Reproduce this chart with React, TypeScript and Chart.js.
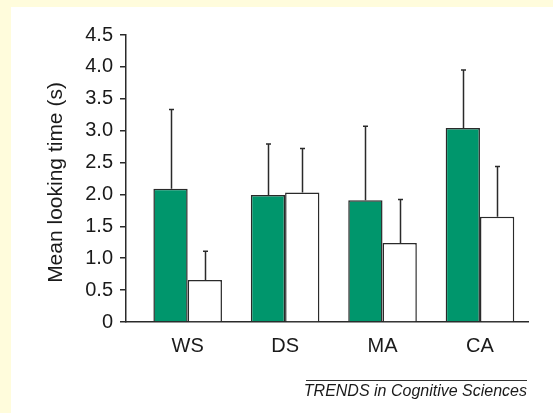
import React, { useEffect, useRef } from 'react';
import { Chart, registerables } from 'chart.js';

Chart.register(...registerables);

const categories = ['WS', 'DS', 'MA', 'CA'];
const greenMeans = [2.09, 1.99, 1.91, 3.04];
const whiteMeans = [0.66, 2.03, 1.24, 1.65];
const greenErrors = [1.24, 0.8, 1.16, 0.91];
const whiteErrors = [0.45, 0.69, 0.68, 0.79];
const yTicks = [0, 0.5, 1, 1.5, 2, 2.5, 3, 3.5, 4, 4.5];
const yTitle = 'Mean looking time (s)';
const footer = 'TRENDS in Cognitive Sciences';

const FONT = '"Liberation Sans", Arial, Helvetica, sans-serif';
const INK = '#1a1a1a';
const LINE = '#2a2a2a';

const background = {
  id: 'background',
  beforeDraw(chart: any) {
    const { ctx, width, height } = chart;
    ctx.save();
    ctx.fillStyle = '#FFFCDC';
    ctx.fillRect(0, 0, width, height);
    ctx.fillStyle = '#FFFFFF';
    ctx.fillRect(11, 7, width - 11, height - 7);
    ctx.restore();
  },
};

const errorBars = {
  id: 'errorBars',
  afterDatasetsDraw(chart: any) {
    const { ctx } = chart;
    const yScale = chart.scales.y;
    chart.data.datasets.forEach((ds: any, di: number) => {
      const meta = chart.getDatasetMeta(di);
      meta.data.forEach((bar: any, i: number) => {
        const top = yScale.getPixelForValue(ds.data[i].y + ds.errors[i]);
        const cx = Math.round(bar.x) + 0.5;
        ctx.save();
        ctx.strokeStyle = LINE;
        ctx.lineWidth = 1.5;
        ctx.beginPath();
        ctx.moveTo(cx, bar.y);
        ctx.lineTo(cx, top);
        ctx.moveTo(cx - 2.5, top);
        ctx.lineTo(cx + 2.5, top);
        ctx.stroke();
        ctx.restore();
      });
    });
  },
};

const annotations = {
  id: 'annotations',
  afterDraw(chart: any) {
    const { ctx, chartArea } = chart;
    ctx.save();
    ctx.fillStyle = INK;
    ctx.font = `21px ${FONT}`;
    ctx.textAlign = 'center';
    ctx.textBaseline = 'middle';
    ctx.translate(56.5, 182.5);
    ctx.rotate(-Math.PI / 2);
    ctx.fillText(yTitle, 0, 0);
    ctx.restore();

    ctx.save();
    ctx.strokeStyle = '#333';
    ctx.lineWidth = 1;
    ctx.beginPath();
    ctx.moveTo(306, 380.5);
    ctx.lineTo(chartArea.right - 1, 380.5);
    ctx.stroke();
    ctx.fillStyle = INK;
    ctx.font = `italic 16px ${FONT}`;
    ctx.textAlign = 'right';
    ctx.textBaseline = 'alphabetic';
    ctx.fillText(footer, chartArea.right - 1, 396);
    ctx.restore();
  },
};

export default function App() {
  const ref = useRef<HTMLCanvasElement>(null);

  useEffect(() => {
    if (!ref.current) return;
    const chart = new Chart(ref.current, {
      type: 'bar',
      data: {
        datasets: [
          {
            label: 'Green',
            data: greenMeans.map((y, i) => ({ x: i, y })),
            errors: greenErrors,
            backgroundColor: '#00966C',
            borderColor: LINE,
            borderWidth: 1.5,
            borderSkipped: 'start',
          } as any,
          {
            label: 'White',
            data: whiteMeans.map((y, i) => ({ x: i, y })),
            errors: whiteErrors,
            backgroundColor: '#FFFFFF',
            borderColor: LINE,
            borderWidth: 1.5,
            borderSkipped: 'start',
          } as any,
        ],
      },
      options: {
        responsive: false,
        animation: false,
        devicePixelRatio: 1,
        layout: { padding: { top: 35, right: 25, left: 0, bottom: 0 } },
        plugins: {
          legend: { display: false },
          tooltip: { enabled: false },
        },
        datasets: {
          bar: { categoryPercentage: 0.704, barPercentage: 1 },
        },
        scales: {
          x: {
            type: 'linear',
            offset: false,
            min: -0.633,
            max: 3.493,
            afterBuildTicks: (s: any) => {
              s.ticks = categories.map((_, i) => ({ value: i }));
            },
            afterFit: (s: any) => {
              s.height = 91;
            },
            grid: { display: false, drawTicks: false, offset: false },
            border: { display: true, color: LINE, width: 1.5 },
            ticks: {
              autoSkip: false,
              maxRotation: 0,
              padding: 12,
              color: INK,
              font: { family: FONT, size: 20 },
              callback: (v: any) => categories[v as number] ?? '',
            },
          },
          y: {
            type: 'linear',
            min: 0,
            max: 4.5,
            afterBuildTicks: (s: any) => {
              s.ticks = yTicks.map((v) => ({ value: v }));
            },
            afterFit: (s: any) => {
              s.width = 126;
            },
            grid: {
              drawOnChartArea: false,
              drawTicks: true,
              tickLength: 6,
              color: LINE,
              lineWidth: 1.5,
            },
            border: { display: true, color: LINE, width: 1.5 },
            ticks: {
              padding: 7,
              color: INK,
              font: { family: FONT, size: 20 },
              callback: (v: any) => (v === 0 ? '0' : Number(v).toFixed(1)),
            },
          },
        },
      } as any,
      plugins: [background, errorBars, annotations],
    });
    return () => chart.destroy();
  }, []);

  return (
    <div style={{ position: 'fixed', left: 0, top: 0, width: 553, height: 413 }}>
      <canvas ref={ref} width={553} height={413} style={{ display: 'block', width: 553, height: 413 }} />
    </div>
  );
}
